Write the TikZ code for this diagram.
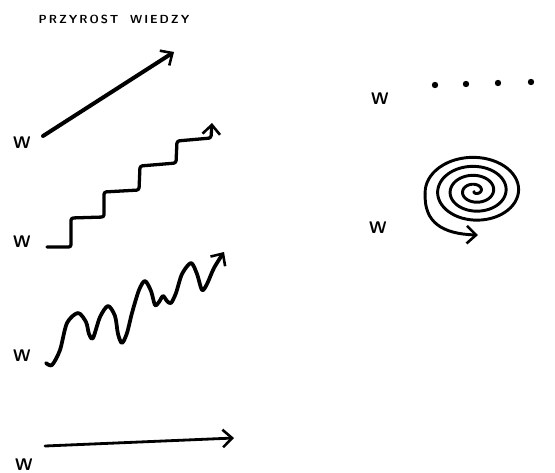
\documentclass[tikz,border=0pt]{standalone}
\usetikzlibrary{arrows.meta}
\tikzset{
  etykieta/.style={font=\sffamily\bfseries\Large, inner sep=0pt},
  kreska/.style={line width=2.8pt, line cap=round, line join=round},
  grot/.style={-{Straight Barb[length=8pt, width=15pt, line width=2.2pt]}},
}
\begin{document}
\begin{tikzpicture}[x=0.03cm, y=-0.03cm]
  \useasboundingbox (0,0) rectangle (555,473);
  %Tytul
  \node[font=\sffamily\bfseries, inner sep=0pt] (tytul) at (114,19) {P\,R\,Z\,Y\,R\,O\,S\,T\quad W\,I\,E\,D\,Z\,Y};
  %Etykiety W
  \node[etykieta] (W1) at (22,143) {W};
  \node[etykieta] (W2) at (22,242) {W};
  \node[etykieta] (W3) at (22,356) {W};
  \node[etykieta] (W4) at (24,465) {W};
  \node[etykieta] (W5) at (380,99) {W};
  \node[etykieta] (W6) at (378,228) {W};
  %Strzalka prosta
  \coordinate (A1) at (43,136);
  \coordinate (B1) at (174,52);
  \draw[kreska, line width=3.4pt, grot] (A1) -- (B1);
  %Schody
  \coordinate (A2) at (47,247);
  \coordinate (B2) at (212,123);
  \draw[kreska, rounded corners=2pt, grot] (A2) -- (71,247) -- (71,218) -- (104,217) -- (104,192)
    -- (139,190) -- (140,166) -- (176,163) -- (177,141) -- (211,138) -- (B2);
  %Fale
  \coordinate (A3) at (46,363);
  \coordinate (B3) at (224,252);
  \draw[kreska, line width=3.2pt, grot] plot[smooth, tension=0.5] coordinates {
    (A3) (52,365) (60,350) (67,323) (78,313) (86,322) (89,334) (93,338) (100,317) (108,306)
    (115,316) (118,334) (122,343) (127,333) (132,313) (139,290) (145,281) (151,291) (155,305)
    (159,302) (163,296) (167,301) (171,303) (176,293) (182,274) (191,263) (197,274) (202,290)
    (207,284) (214,268) (B3)};
  %Strzalka pozioma
  \coordinate (A4) at (45,446);
  \coordinate (B4) at (234,438);
  \draw[kreska, line width=2.4pt, grot] (A4) -- (B4);
  %Kropki
  \foreach \x/\y in {435/85, 466/84, 498/83, 531/82}
    \fill (\x,\y) circle (3.2);
  %Spirala
  \coordinate (B6) at (478,235);
  \draw[kreska, line width=2.5pt] plot[domain=0.1:4, samples=240, smooth]
    ({475 + 12.5*\x*cos(175+360*(4-\x))}, {191 + 9*\x*sin(175+360*(4-\x))});
  \draw[kreska, line width=2.5pt, grot] (425.2,194.1) .. controls (424,222) and (442,234) .. (B6);
\end{tikzpicture}
\end{document}
